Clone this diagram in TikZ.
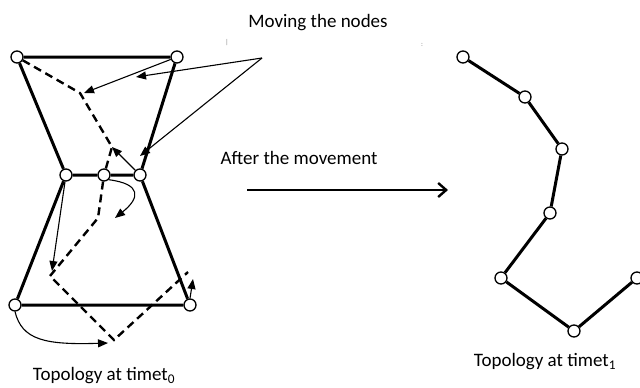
\documentclass[tikz,border=0pt]{standalone}
\usepackage{fontspec}
\setmainfont{Carlito}
\usepackage{tikz}
\usetikzlibrary{arrows.meta}

\begin{document}
\begin{tikzpicture}[x=1pt, y=-1pt, every node/.style={font=\fontsize{19}{22}\selectfont},
    vtx/.style={circle,draw,line width=1.3pt,fill=white,inner sep=0pt,minimum size=12pt},
    link/.style={line width=3pt},
    moved/.style={line width=2.4pt,dash pattern=on 8pt off 5pt},
    mv/.style={line width=1.1pt,-{Triangle[length=10pt,width=8pt]}}]
  \useasboundingbox (0,0) rectangle (640,388);
  % topology at t0
  \node[vtx] (tl) at (17,57)  {};
  \node[vtx] (tr) at (177,57) {};
  \node[vtx] (ml) at (66,175) {};
  \node[vtx] (mm) at (104,175) {};
  \node[vtx] (mr) at (140,175) {};
  \node[vtx] (bl) at (15,305) {};
  \node[vtx] (br) at (190,305) {};
  \draw[link] (tl)--(tr) (tl)--(ml) (tr)--(mr) (ml)--(mm)--(mr)
              (ml)--(bl) (mr)--(br) (bl)--(br);
  % new positions
  \coordinate (d1) at (80,93);
  \coordinate (d2) at (112,147);
  \coordinate (d3) at (98,218);
  \coordinate (d4) at (50,276);
  \coordinate (d5) at (114,340);
  \coordinate (d6) at (188,272);
  \draw[moved] (tl) -- (d1) -- (d2) -- (mm);
  \draw[moved] (mm) -- (d3) -- (d4) -- (d5) -- (d6);
  \coordinate (m1) at (84,93);
  \coordinate (m3) at (115,218);
  \coordinate (m4) at (52,271);
  \coordinate (m5) at (108,343);
  \coordinate (m6) at (193,279);
  \draw[mv] (tr) -- (m1);
  \draw[mv] (mr) -- (d2);
  \draw[mv] (mm.south east) .. controls (142,184) and (140,198) .. (m3);
  \draw[mv] (ml) -- (m4);
  \draw[mv] (bl.south) .. controls (22,340) and (45,345) .. (m5);
  \draw[mv] (br.north) -- (m6);
  % labels and pointers
  \node (moving) at (318,23) {Moving the nodes};
  \coordinate (hub) at (262,58);
  \coordinate (q1) at (136,77);
  \coordinate (q2) at (140,156);
  \draw[mv] (hub) -- (q1);
  \draw[mv] (hub) -- (q2);
  \node[text=gray,font=\scriptsize] (mark1) at (227,43) {|};
  \node[text=gray,font=\scriptsize] (mark2) at (422,45) {:};
  \node (after) at (299,158) {After the movement};
  \coordinate (go0) at (247,190);
  \coordinate (go1) at (448,190);
  \draw[line width=2.4pt,-{Straight Barb[length=8pt,width=14pt]}] (go0) -- (go1);
  % topology at t1
  \node[vtx] (r1) at (463,57)  {};
  \node[vtx] (r2) at (525,97)  {};
  \node[vtx] (r3) at (562,149) {};
  \node[vtx] (r4) at (550,213) {};
  \node[vtx] (r5) at (501,278) {};
  \node[vtx] (r6) at (574,331) {};
  \node[vtx] (r7) at (637,278) {};
  \draw[link] (r1)--(r2)--(r3)--(r4)--(r5)--(r6)--(r7);
  \node (t0) at (104,376) {Topology at timet\textsubscript{0}};
  \node (t1) at (545,362) {Topology at timet\textsubscript{1}};
\end{tikzpicture}
\end{document}
